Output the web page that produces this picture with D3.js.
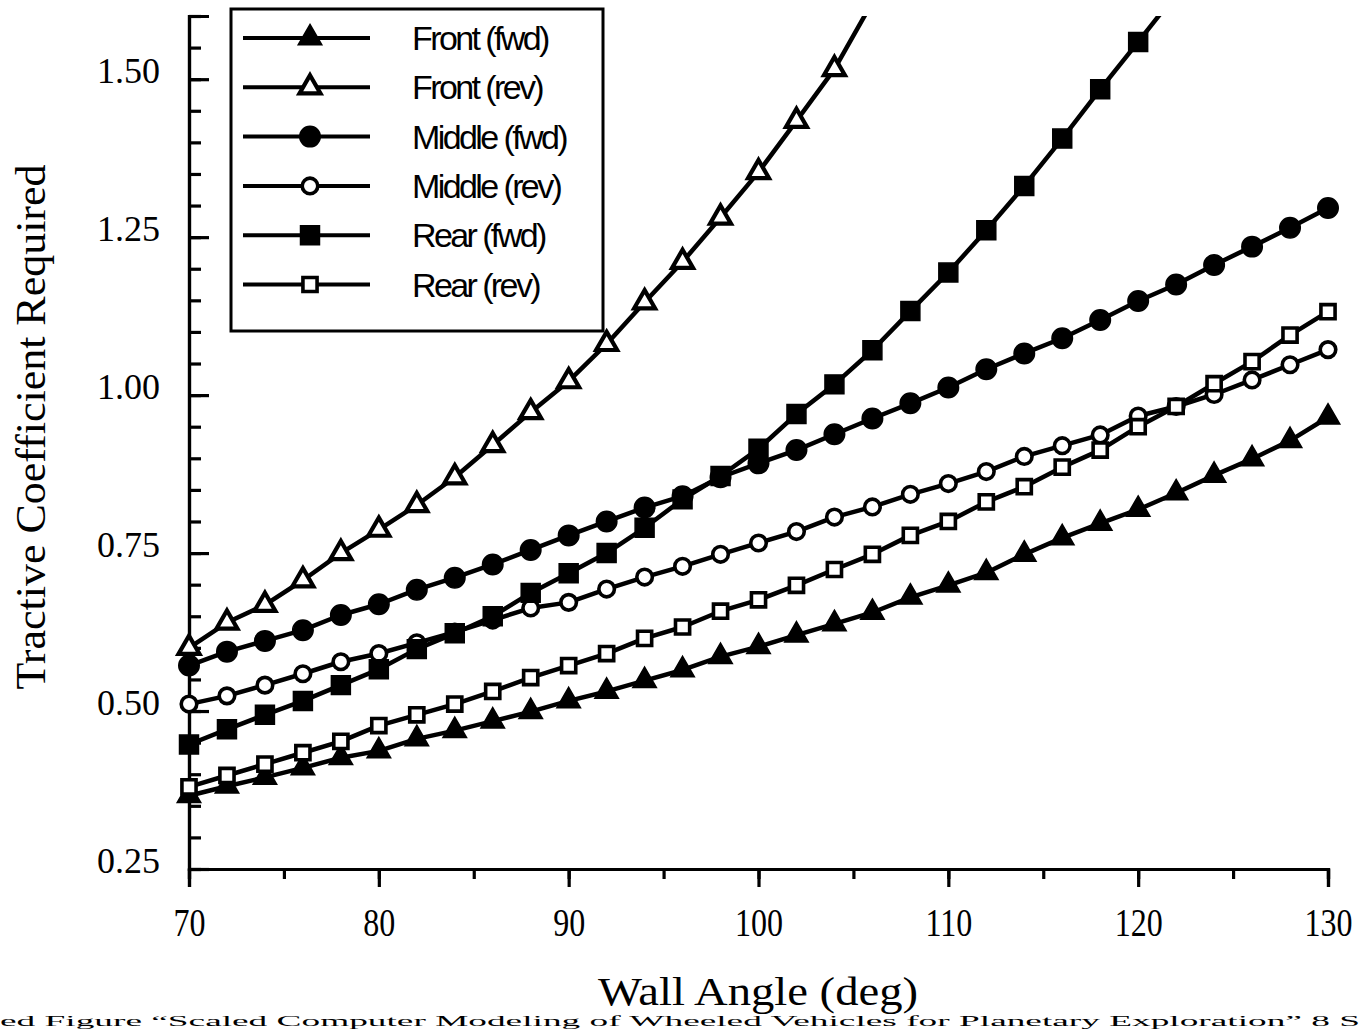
<!DOCTYPE html>
<html>
<head>
<meta charset="utf-8">
<script src="https://cdn.jsdelivr.net/npm/d3@7/dist/d3.min.js"></script>
<style>
  html, body { margin: 0; padding: 0; background: #fff; overflow: hidden; }
  svg { display: block; }
</style>
</head>
<body>
<svg id="chart" width="1363" height="1031"></svg>
<script>
// ---------- DATA ----------
const angles = [70,72,74,76,78,80,82,84,86,88,90,92,94,96,98,100,102,104,106,108,110,112,114,116,118,120,122,124,126,128,130];

const frontFwd = [0.366,0.381,0.395,0.410,0.426,0.437,0.456,0.469,0.484,0.499,0.516,0.531,0.548,0.565,0.586,0.602,0.620,0.638,0.656,0.680,0.699,0.719,0.748,0.774,0.797,0.819,0.845,0.873,0.899,0.928,0.965];
const frontRev = [0.600,0.640,0.668,0.707,0.750,0.787,0.826,0.870,0.921,0.973,1.022,1.081,1.147,1.211,1.281,1.353,1.434,1.516,1.622];
const middleFwd = [0.572,0.594,0.611,0.628,0.652,0.669,0.692,0.711,0.732,0.755,0.778,0.800,0.822,0.840,0.870,0.892,0.913,0.938,0.963,0.987,1.012,1.041,1.066,1.090,1.119,1.149,1.175,1.206,1.235,1.265,1.296];
const middleRev = [0.511,0.524,0.541,0.559,0.578,0.591,0.608,0.625,0.644,0.663,0.672,0.693,0.712,0.729,0.748,0.766,0.784,0.807,0.823,0.843,0.860,0.879,0.903,0.920,0.937,0.967,0.982,1.001,1.024,1.048,1.072];
const rearFwd = [0.447,0.471,0.494,0.516,0.541,0.566,0.598,0.623,0.650,0.687,0.718,0.750,0.790,0.835,0.872,0.915,0.970,1.017,1.071,1.133,1.194,1.261,1.331,1.406,1.484,1.559,1.635];
const rearRev = [0.380,0.398,0.416,0.434,0.452,0.477,0.494,0.511,0.531,0.553,0.572,0.591,0.615,0.633,0.658,0.676,0.699,0.724,0.748,0.778,0.800,0.831,0.855,0.886,0.913,0.950,0.982,1.018,1.053,1.095,1.132];

const seriesNames = ["Front (fwd)","Front (rev)","Middle (fwd)","Middle (rev)","Rear (fwd)","Rear (rev)"];
const seriesValues = [frontFwd, frontRev, middleFwd, middleRev, rearFwd, rearRev];
const seriesMarkers = ["triangle","triangle","circle","circle","square","square"];
const seriesFilled = [true,false,true,false,true,false];

const xMajorTicks = [70,80,90,100,110,120,130];
const yMajorTicks = [0.25,0.50,0.75,1.00,1.25,1.50];

const xTitle = "Wall Angle (deg)";
const yTitle = "Tractive Coefficient Required";
const captionText = "ed Figure \u201CScaled Computer Modeling of Wheeled Vehicles for Planetary Exploration\u201D 8 S";

// ---------- LAYOUT ----------
const svg = d3.select("#chart");
const X0 = 189, X1 = 1328, Y0 = 869, Y1 = 16;
const x = d3.scaleLinear().domain([70,130]).range([X0,X1]);
const y = d3.scaleLinear().domain([0.25,1.6]).range([Y0,Y1]);

svg.append("defs").append("clipPath").attr("id","plotclip")
  .append("rect").attr("x",0).attr("y",Y1).attr("width",1363).attr("height",Y0-Y1+40);

// ---------- AXES ----------
const yMinor = d3.range(0.25, 1.6001, 0.05).map(v => +v.toFixed(2));
const xMinor = d3.range(70, 130.001, 5);

const gyMinor = svg.append("g").attr("transform",`translate(${X0},0)`)
  .call(d3.axisLeft(y).tickValues(yMinor).tickSize(-12).tickFormat(""));
const gy = svg.append("g").attr("transform",`translate(${X0},0)`)
  .call(d3.axisLeft(y).tickValues(yMajorTicks).tickSize(-20).tickPadding(29).tickFormat(d3.format(".2f")));

const gxMinor = svg.append("g").attr("transform",`translate(0,${Y0})`)
  .call(d3.axisBottom(x).tickValues(xMinor).tickSize(10).tickFormat(""));
const gx = svg.append("g").attr("transform",`translate(0,${Y0})`)
  .call(d3.axisBottom(x).tickValues(xMajorTicks).tickSize(18).tickPadding(21).tickFormat(d3.format("d")));

[gyMinor, gy, gxMinor, gx].forEach(g => {
  g.selectAll("path.domain").attr("stroke","#000").attr("stroke-width",3.2);
  g.selectAll(".tick line").attr("stroke","#000").attr("stroke-width",3.2);
});
gy.selectAll(".tick text").attr("fill","#000")
  .style("font-family","'Liberation Serif','Times New Roman',serif").style("font-size","36px")
  .attr("dy","0.1em");
gx.selectAll(".tick text").attr("fill","#000")
  .style("font-family","'Liberation Serif','Times New Roman',serif").style("font-size","40px")
  .attr("transform","scale(0.8,1)");

// ---------- TITLES ----------
svg.append("text")
  .attr("transform",`translate(45,427) rotate(-90)`)
  .attr("text-anchor","middle")
  .attr("textLength",525).attr("lengthAdjust","spacingAndGlyphs")
  .style("font-family","'Liberation Serif','Times New Roman',serif")
  .style("font-size","42px").attr("fill","#000")
  .text(yTitle);

svg.append("text")
  .attr("x",758).attr("y",1005)
  .attr("text-anchor","middle")
  .attr("textLength",320).attr("lengthAdjust","spacingAndGlyphs")
  .style("font-family","'Liberation Serif','Times New Roman',serif")
  .style("font-size","40px").attr("fill","#000")
  .text(xTitle);

svg.append("text")
  .attr("x",0).attr("y",1026)
  .attr("textLength",1360).attr("lengthAdjust","spacingAndGlyphs")
  .style("font-family","'Liberation Serif','Times New Roman',serif")
  .style("font-size","15px").attr("fill","#000")
  .text(captionText);

// ---------- MARKERS ----------
function drawMarker(g, type, filled, cx, cy) {
  let sym, size, sw;
  if (type === "triangle") { sym = d3.symbolTriangle; size = filled ? 240 : 190; sw = filled ? 1.5 : 4.2; }
  else if (type === "circle") { sym = d3.symbolCircle; size = filled ? 330 : 190; sw = filled ? 1.5 : 3.6; }
  else { sym = d3.symbolSquare; size = filled ? 360 : 200; sw = filled ? 1.5 : 3.6; }
  g.append("path")
    .attr("d", d3.symbol().type(sym).size(size)())
    .attr("transform",`translate(${cx},${cy})`)
    .attr("fill", filled ? "#000" : "#fff")
    .attr("stroke","#000")
    .attr("stroke-width", sw);
}

// ---------- SERIES ----------
const line = d3.line().x(d => x(d.a)).y(d => y(d.v));
const plot = svg.append("g");
seriesValues.forEach((vals, i) => {
  const pts = vals.map((v, j) => ({a: angles[j], v: v}));
  plot.append("path").datum(pts)
    .attr("d", line)
    .attr("clip-path","url(#plotclip)")
    .attr("fill","none").attr("stroke","#000").attr("stroke-width",4.5)
    .attr("stroke-linejoin","round");
});
seriesValues.forEach((vals, i) => {
  const g = plot.append("g");
  vals.forEach((v, j) => {
    if (v <= 1.6) drawMarker(g, seriesMarkers[i], seriesFilled[i], x(angles[j]), y(v));
  });
});

// ---------- LEGEND ----------
const lg = svg.append("g");
lg.append("rect").attr("x",231).attr("y",9).attr("width",372).attr("height",322)
  .attr("fill","#fff").attr("stroke","#000").attr("stroke-width",3);
seriesNames.forEach((name, i) => {
  const ly = 38 + i * 49.3;
  lg.append("line").attr("x1",243).attr("x2",370).attr("y1",ly).attr("y2",ly)
    .attr("stroke","#000").attr("stroke-width",4);
  drawMarker(lg, seriesMarkers[i], seriesFilled[i], 310, ly);
  lg.append("text").attr("x",412).attr("y",ly + 12)
    .style("font-family","'Liberation Sans Narrow','Arial Narrow','Liberation Sans',sans-serif")
    .style("font-size","34px").style("letter-spacing","-2.6px").attr("fill","#000")
    .text(name);
});
</script>
</body>
</html>
